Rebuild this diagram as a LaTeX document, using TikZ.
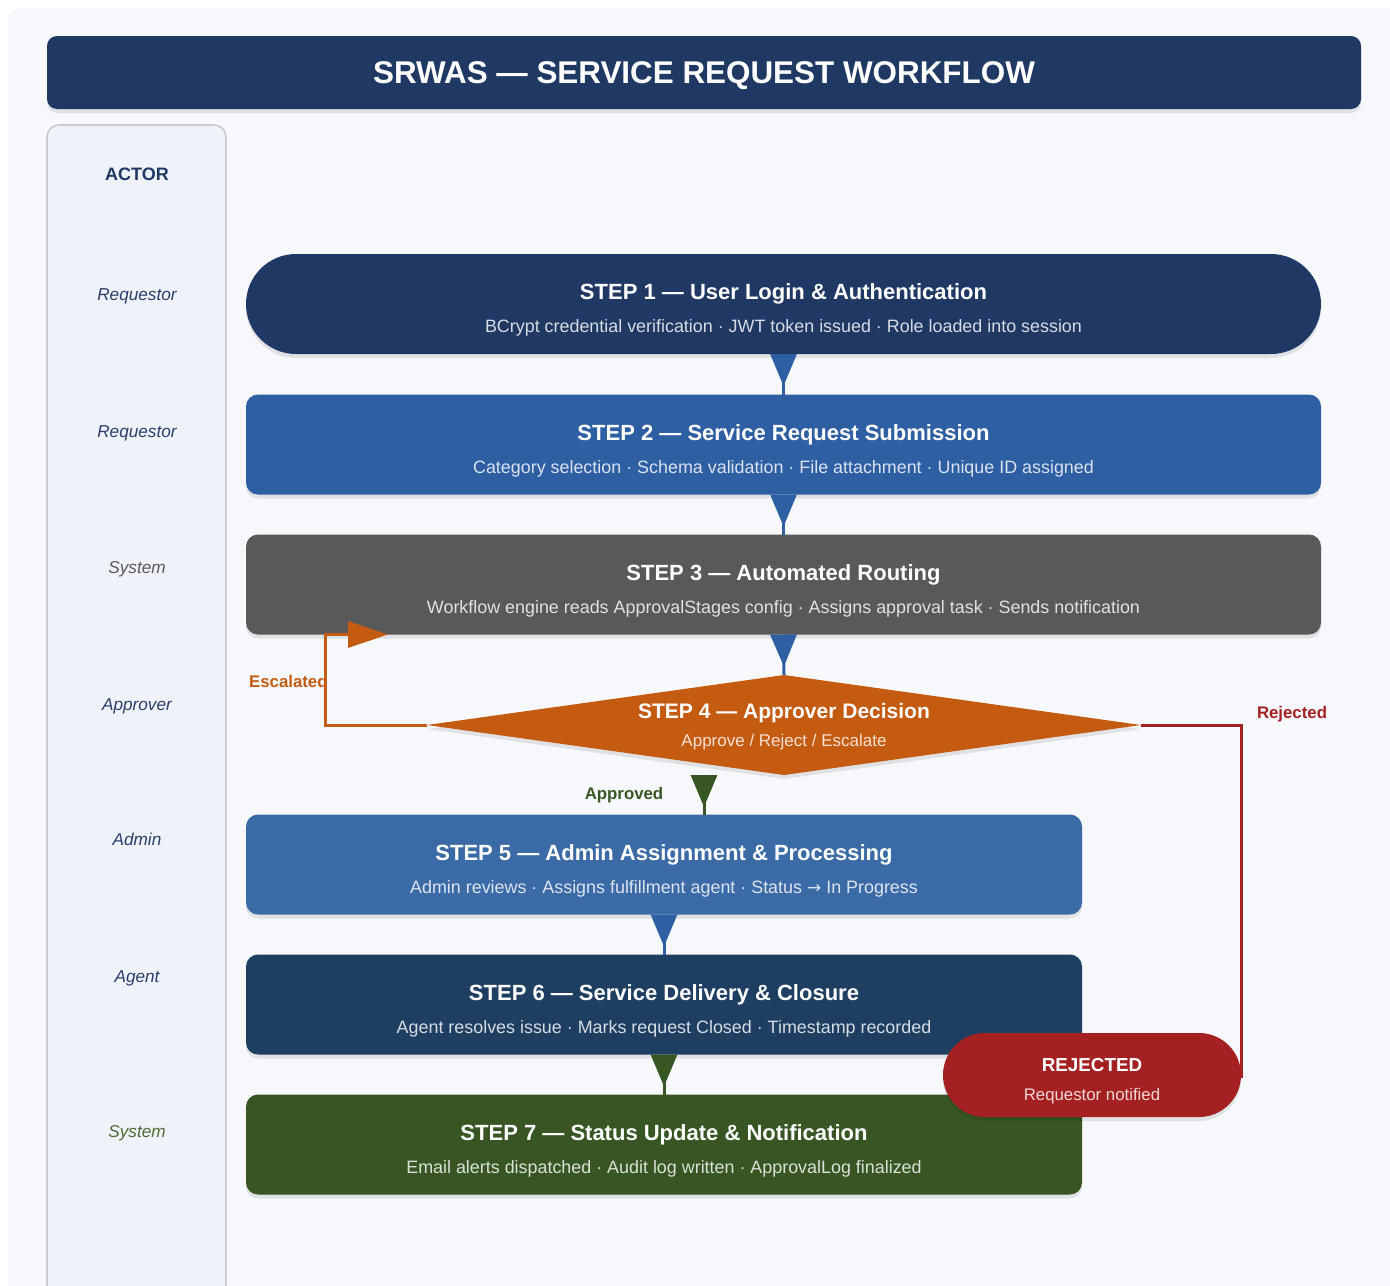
\documentclass[tikz,border=0pt]{standalone}
\usepackage{fontspec}
\setmainfont{Liberation Sans}
\newfontfamily\arrowfont{DejaVu Sans}
\usetikzlibrary{arrows.meta,shapes.geometric,shadows}

\definecolor{navy}{HTML}{1F3864}
\definecolor{royal}{HTML}{2E5FA3}
\definecolor{slate}{HTML}{595959}
\definecolor{rust}{HTML}{C55A11}
\definecolor{steel}{HTML}{3B6BA6}
\definecolor{deepnavy}{HTML}{1E3F62}
\definecolor{forest}{HTML}{375623}
\definecolor{crimson}{HTML}{A52121}
\definecolor{pagebg}{HTML}{F7F8FB}
\definecolor{lanebg}{HTML}{EFF2F8}
\definecolor{laneline}{HTML}{C9CBD0}
\definecolor{actorblue}{HTML}{2B3E6B}
\definecolor{actorgreen}{HTML}{4E6B35}

\newcommand{\steptext}[2]{{\bfseries\fontsize{11}{13}\selectfont\rule{0pt}{14pt}#1}\\[4.5pt]{\fontsize{8.95}{13}\selectfont\color{subcol}#2}}
\newcommand{\decisiontext}[2]{{\bfseries\fontsize{10.5}{13}\selectfont\rule{0pt}{9.5pt}#1}\\[2pt]{\fontsize{8.5}{13}\selectfont\color{subcol}#2}}
\newcommand{\toarrow}{{\arrowfont\fontsize{8.5}{13}\selectfont →}}

\begin{document}
\begin{tikzpicture}[
        x=0.5pt, y=-0.5pt,
        softshadow/.style={drop shadow={shadow xshift=0pt, shadow yshift=-2pt, opacity=0.09, fill=black}},
        stepbox/.style={fill=#1, text=white, minimum width=537.5pt, minimum height=50pt,
            rounded corners=6pt, align=center, inner sep=0pt, outer sep=0pt, softshadow,
            execute at begin node={\colorlet{subcol}{white!82!#1}}},
        shortstep/.style={stepbox=#1, minimum width=418pt},
        decision/.style={diamond, fill=rust, text=white, shape aspect=7, minimum width=357pt,
            minimum height=50pt, inner sep=0pt, outer sep=0pt, align=center, softshadow,
            execute at begin node={\colorlet{subcol}{white!82!rust}}},
        rejectbox/.style={fill=crimson, text=white, minimum width=149pt, minimum height=42pt,
            rounded corners=21pt, align=center, inner sep=0pt, outer sep=0pt, softshadow,
            execute at begin node={\colorlet{subcol}{white!82!crimson}}},
        actor/.style={font=\itshape\fontsize{8.6}{10}\selectfont, text=actorblue},
        flowlabel/.style={font=\bfseries\fontsize{8.4}{10}\selectfont, inner sep=0pt},
        flow/.style={line width=1.5pt, arrows={Triangle[reversed,width=13pt,length=16pt]-}},
        branch/.style={line width=1.5pt}
    ]

    \useasboundingbox (0,0) rectangle (1390,1285);
    \fill[white] (0,0) rectangle (1390,1285);
    \fill[pagebg, rounded corners=6pt] (8,8) rectangle (1420,1320);

    % title and actor lane
    \node[fill=navy, text=white, rounded corners=5pt, minimum width=657pt, minimum height=36.5pt,
        inner sep=0pt, text height=11.2pt, text depth=0pt, softshadow,
        font=\bfseries\fontsize{15.7}{18}\selectfont] (title) at (704,72.5)
        {SRWAS — SERVICE REQUEST WORKFLOW};
    \draw[fill=lanebg, draw=laneline, line width=0.8pt, rounded corners=6pt] (47,125) rectangle (226,1320);

    \node[font=\bfseries\fontsize{9}{11}\selectfont, text=navy] (actorhead) at (137,174) {ACTOR};
    \node[actor] (a1) at (137,296) {Requestor};
    \node[actor] (a2) at (137,433) {Requestor};
    \node[actor, text=slate] (a3) at (137,569) {System};
    \node[actor] (a4) at (137,706) {Approver};
    \node[actor] (a5) at (137,839) {Admin};
    \node[actor] (a6) at (137,978) {Agent};
    \node[actor, text=actorgreen] (a7) at (137,1133) {System};

    % workflow steps
    \node[stepbox=navy, rounded corners=25pt] (s1) at (783.5,304)
        {\steptext{STEP 1 — User Login \& Authentication}{BCrypt credential verification · JWT token issued · Role loaded into session}};
    \node[stepbox=royal] (s2) at (783.5,444.5)
        {\steptext{STEP 2 — Service Request Submission}{Category selection · Schema validation · File attachment · Unique ID assigned}};
    \node[stepbox=slate] (s3) at (783.5,584.5)
        {\steptext{STEP 3 — Automated Routing}{Workflow engine reads ApprovalStages config · Assigns approval task · Sends notification}};
    \node[decision] (s4) at (784,725)
        {\decisiontext{STEP 4 — Approver Decision}{Approve / Reject / Escalate}};
    \node[shortstep=steel] (s5) at (664,864.5)
        {\steptext{STEP 5 — Admin Assignment \& Processing}{Admin reviews · Assigns fulfillment agent · Status \toarrow{} In Progress}};
    \node[shortstep=deepnavy] (s6) at (664,1004.5)
        {\steptext{STEP 6 — Service Delivery \& Closure}{Agent resolves issue · Marks request Closed · Timestamp recorded}};
    \node[shortstep=forest] (s7) at (664,1144.5)
        {\steptext{STEP 7 — Status Update \& Notification}{Email alerts dispatched · Audit log written · ApprovalLog finalized}};

    % branch labels
    \node[flowlabel, text=rust, anchor=east] (esclabel) at (328,681) {Escalated};
    \node[flowlabel, text=forest] (applabel) at (624,795) {Approved};
    \node[flowlabel, text=crimson] (rejlabel) at (1292,714) {Rejected};

    % connectors
    \draw[flow, royal] (s1.south) -- (s2.north);
    \draw[flow, royal] (s2.south) -- (s3.north);
    \draw[flow, royal] (s3.south) -- (s4.north);
    \draw[flow, forest] ([xshift=20pt]s5.north |- s4.south) -- ([xshift=20pt]s5.north);
    \draw[flow, royal] (s5.south) -- (s6.north);
    \draw[flow, forest] (s6.south) -- (s7.north);
    \draw[branch, rust, arrows={-Triangle[width=13pt,length=20pt]}]
        (s4.west) -- ++(-51pt,0) |- ([xshift=71pt]s3.south west);

    \node[rejectbox] (rej) at (1092,1075)
        {{\bfseries\fontsize{9.4}{13}\selectfont\rule{0pt}{12.7pt}REJECTED}\\[2.3pt]{\fontsize{8.4}{13}\selectfont\color{subcol}Requestor notified}};
    \draw[branch, crimson] (s4.east) -| ([yshift=-1.5pt]rej.east);

\end{tikzpicture}
\end{document}
